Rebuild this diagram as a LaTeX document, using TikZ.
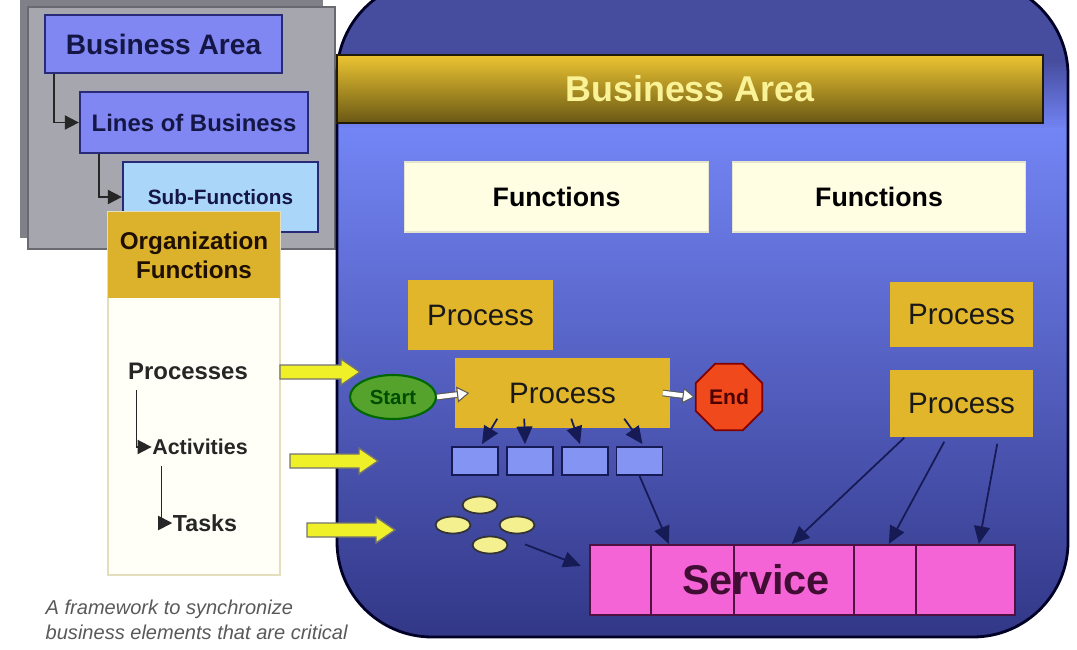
\documentclass[tikz,border=0pt]{standalone}
\usepackage{fontspec}
\setmainfont{Liberation Sans}
\usepackage{tikz}
\usetikzlibrary{arrows.meta, positioning, shapes.geometric, calc}
\definecolor{grayback}{RGB}{128,128,136}
\definecolor{grayfront}{RGB}{166,166,174}
\definecolor{grayedge}{RGB}{105,105,113}
\definecolor{boxblue}{RGB}{128,134,242}
\definecolor{boxedge}{RGB}{40,42,120}
\definecolor{subblue}{RGB}{170,214,250}
\definecolor{textnavy}{RGB}{20,22,70}
\definecolor{orggold}{RGB}{220,178,44}
\definecolor{orgedge}{RGB}{226,222,190}
\definecolor{yellowarr}{RGB}{240,240,40}
\definecolor{paneldark}{RGB}{70,76,158}
\definecolor{panellight}{RGB}{115,133,245}
\definecolor{panelmid}{RGB}{92,106,220}
\definecolor{panelbot}{RGB}{50,55,135}
\definecolor{bandtop}{RGB}{236,196,50}
\definecolor{bandmid}{RGB}{205,165,35}
\definecolor{bandbot}{RGB}{105,88,20}
\definecolor{bandtext}{RGB}{250,242,150}
\definecolor{cream}{RGB}{255,253,226}
\definecolor{procgold}{RGB}{226,182,42}
\definecolor{startgreen}{RGB}{85,163,44}
\definecolor{endred}{RGB}{240,74,28}
\definecolor{cellblue}{RGB}{132,148,242}
\definecolor{blobyellow}{RGB}{244,240,144}
\definecolor{svcpink}{RGB}{244,100,214}
\definecolor{svcedge}{RGB}{80,16,64}
\definecolor{navy}{RGB}{22,26,85}
\tikzset{
  bluebox/.style={draw=boxedge, fill=boxblue, line width=0.6pt, inner sep=0pt,
                  text=textnavy, font=\bfseries},
  treetext/.style={inner sep=0pt, text=black!85,
                   font=\fontsize{6.6}{7}\selectfont\bfseries},
  treearrow/.style={black!85, line width=0.5pt, -{Triangle[length=4pt,width=4pt]}},
  funcbox/.style={fill=cream, draw=cream!80!gray, line width=0.3pt,
                  minimum height=0.70cm, inner sep=0pt,
                  font=\fontsize{7.6}{8}\selectfont\bfseries},
  procbox/.style={fill=procgold, inner sep=0pt, text=black!90,
                  font=\fontsize{8.4}{9}\selectfont},
  cellbox/.style={draw=navy, fill=cellblue, line width=0.5pt,
                  minimum width=0.46cm, minimum height=0.28cm, inner sep=0pt},
  blob/.style={ellipse, draw=black!80, fill=blobyellow, line width=0.5pt,
               minimum width=0.35cm, minimum height=0.17cm, inner sep=0pt},
  navyarrow/.style={navy, line width=0.5pt, -{Triangle[length=5pt,width=4.5pt]}},
  whitearrow/.style={draw=gray!70!black, double=white, double distance=1.3pt,
                     line width=0.3pt, -{Triangle[length=3.5pt,width=4.5pt,fill=white]}}
}
\begin{document}
\begin{tikzpicture}[x=0.01cm, y=-0.01cm]
    \useasboundingbox (0,0) rectangle (1077,649);
    % gray stack
    \fill[grayback] (20,-5) rectangle (323,238);
    \filldraw[fill=grayfront, draw=grayedge, line width=0.6pt] (28,7) rectangle (335,249);
    % hierarchy boxes
    \node[bluebox, minimum width=2.37cm, minimum height=0.58cm,
          font=\fontsize{8}{9}\selectfont\bfseries] (ba) at (163.5,44) {Business Area};
    \node[bluebox, minimum width=2.28cm, minimum height=0.61cm,
          font=\fontsize{6.8}{8}\selectfont\bfseries] (lob) at (194,122.5) {Lines of Business};
    \node[bluebox, fill=subblue, minimum width=1.95cm, minimum height=0.70cm,
          font=\fontsize{5.9}{7}\selectfont\bfseries] (subf) at (220.5,197) {Sub-Functions};
    \draw[treearrow] ([xshift=0.1cm]ba.south west) |- (lob.west);
    \draw[treearrow] ([xshift=0.2cm]lob.south west) |- (subf.west);
    % organization functions
    \filldraw[fill=white!97!yellow, draw=orgedge, line width=0.6pt] (108,212) rectangle (280,575);
    \node[fill=orggold, minimum width=1.72cm, minimum height=0.86cm, inner sep=0pt,
          align=center, text=black!80!orange!60!black,
          font=\fontsize{6.9}{8.3}\selectfont\bfseries] (orgh) at (194,255) {Organization\\Functions};
    \node[treetext, font=\fontsize{6.8}{7}\selectfont\bfseries] (procs) at (188,371) {Processes};
    \node[treetext, font=\fontsize{6.1}{7}\selectfont\bfseries] (acts) at (200,447) {Activities};
    \node[treetext] (tasks) at (205,523) {Tasks};
    \draw[treearrow] ([xshift=0.09cm, yshift=-0.1cm]procs.south west) |- (acts.west);
    \draw[treearrow] ([xshift=0.1cm, yshift=-0.1cm]acts.south west) |- (tasks.west);
    % business area panel
    \begin{scope}
      \clip[rounded corners=0.95cm] (337,-20) rectangle (1068,637);
      \fill[paneldark] (337,-20) rectangle (1068,60);
      \shade[top color=paneldark, bottom color=panellight] (337,60) rectangle (1068,130);
      \shade[top color=panellight, middle color=panelmid, bottom color=panelbot]
        (337,129) rectangle (1068,637);
    \end{scope}
    \draw[black!85!blue, line width=0.8pt, rounded corners=0.95cm] (337,-20) rectangle (1068,637);
    \node[top color=bandtop, middle color=bandmid, bottom color=bandbot, draw=black!70!bandbot,
          line width=0.5pt, minimum width=7.06cm, minimum height=0.68cm, inner sep=0pt,
          text=bandtext, font=\fontsize{10.2}{11}\selectfont\bfseries] (band) at (690,89) {Business Area};
    % yellow arrows
    \foreach \xa/\xb/\yy in {280/360/372, 290/378/461, 307/395/530} {
      \filldraw[fill=yellowarr, draw=black!55, line width=0.4pt]
        (\xa,\yy-7) -- (\xb-19,\yy-7) -- (\xb-19,\yy-13) -- (\xb,\yy)
        -- (\xb-19,\yy+13) -- (\xb-19,\yy+7) -- (\xa,\yy+7) -- cycle;
    }
    % functions
    \node[funcbox, minimum width=3.03cm] (f1) at (556.5,197) {Functions};
    \node[funcbox, minimum width=2.92cm] (f2) at (879,197) {Functions};
    % processes
    \node[procbox, minimum width=1.45cm, minimum height=0.70cm] (ptl) at (480.5,315) {Process};
    \node[procbox, minimum width=2.15cm, minimum height=0.70cm] (pc) at (562.5,393) {Process};
    \node[procbox, minimum width=1.43cm, minimum height=0.65cm] (pr1) at (961.5,314.5) {Process};
    \node[procbox, minimum width=1.43cm, minimum height=0.67cm] (pr2) at (961.5,403.5) {Process};
    % start and end
    \node[ellipse, draw=black!60!green, fill=startgreen, line width=0.6pt,
          minimum width=0.86cm, minimum height=0.44cm, inner sep=0pt,
          text=black!70!green, font=\fontsize{5.8}{6}\selectfont\bfseries] (start) at (393,397) {Start};
    \node[regular polygon, regular polygon sides=8, draw=red!50!black, fill=endred,
          line width=0.5pt, minimum size=0.72cm, inner sep=0pt,
          text=red!30!black, font=\fontsize{6}{6}\selectfont\bfseries] (end) at (729,397) {End};
    \draw[whitearrow] (start.east) -- ([xshift=0.15cm]pc.west);
    \draw[whitearrow] ([xshift=-0.08cm]pc.east) -- (end.west);
    % activities
    \foreach \i/\x in {1/475, 2/530, 3/585, 4/639.5} {
      \node[cellbox] (c\i) at (\x,461) {};
    }
    \foreach \i/\sx/\ex in {1/43/7, 2/70/-5, 3/117/-5, 4/170/3} {
      \draw[navyarrow] ($(pc.south west)+(\sx,-10)$) -- ($(c\i.north)+(\ex,-2)$);
    }
    % tasks
    \foreach \i/\x/\y in {1/480/505, 2/453/525, 3/517/525, 4/490/545} {
      \node[blob] (e\i) at (\x,\y) {};
    }
    % service
    \node[draw=svcedge, fill=svcpink, line width=0.6pt, minimum width=4.25cm,
          minimum height=0.70cm, inner sep=0pt] (svc) at (802.5,580) {};
    \foreach \dx in {62, 145, 265, 327} {
      \draw[svcedge, line width=0.5pt] ($(svc.north west)+(\dx,0)$) -- ($(svc.south west)+(\dx,0)$);
    }
    \node[text=svcedge!80!black, font=\fontsize{11.8}{12}\selectfont\bfseries] (svct) at (756,580) {Service};
    \draw[navyarrow] (c4.south) -- ($(svc.north west)+(80,0)$);
    \draw[navyarrow] ($(e3.south)+(8,10)$) -- ($(svc.north west)+(-8,22)$);
    \draw[navyarrow] ($(pr2.south west)+(15,0)$) -- ($(svc.north west)+(203,0)$);
    \draw[navyarrow] ($(pr2.south west)+(55,4)$) -- ($(svc.north west)+(300,0)$);
    \draw[navyarrow] ($(pr2.south west)+(108,6)$) -- ($(svc.north west)+(390,0)$);
    % caption
    \node[anchor=north west, align=left, inner sep=0pt, text=black!65,
          font=\fontsize{5.7}{7.1}\selectfont\itshape] (cap) at (45,599)
          {A framework to synchronize\\business elements that are critical};
\end{tikzpicture}
\end{document}
